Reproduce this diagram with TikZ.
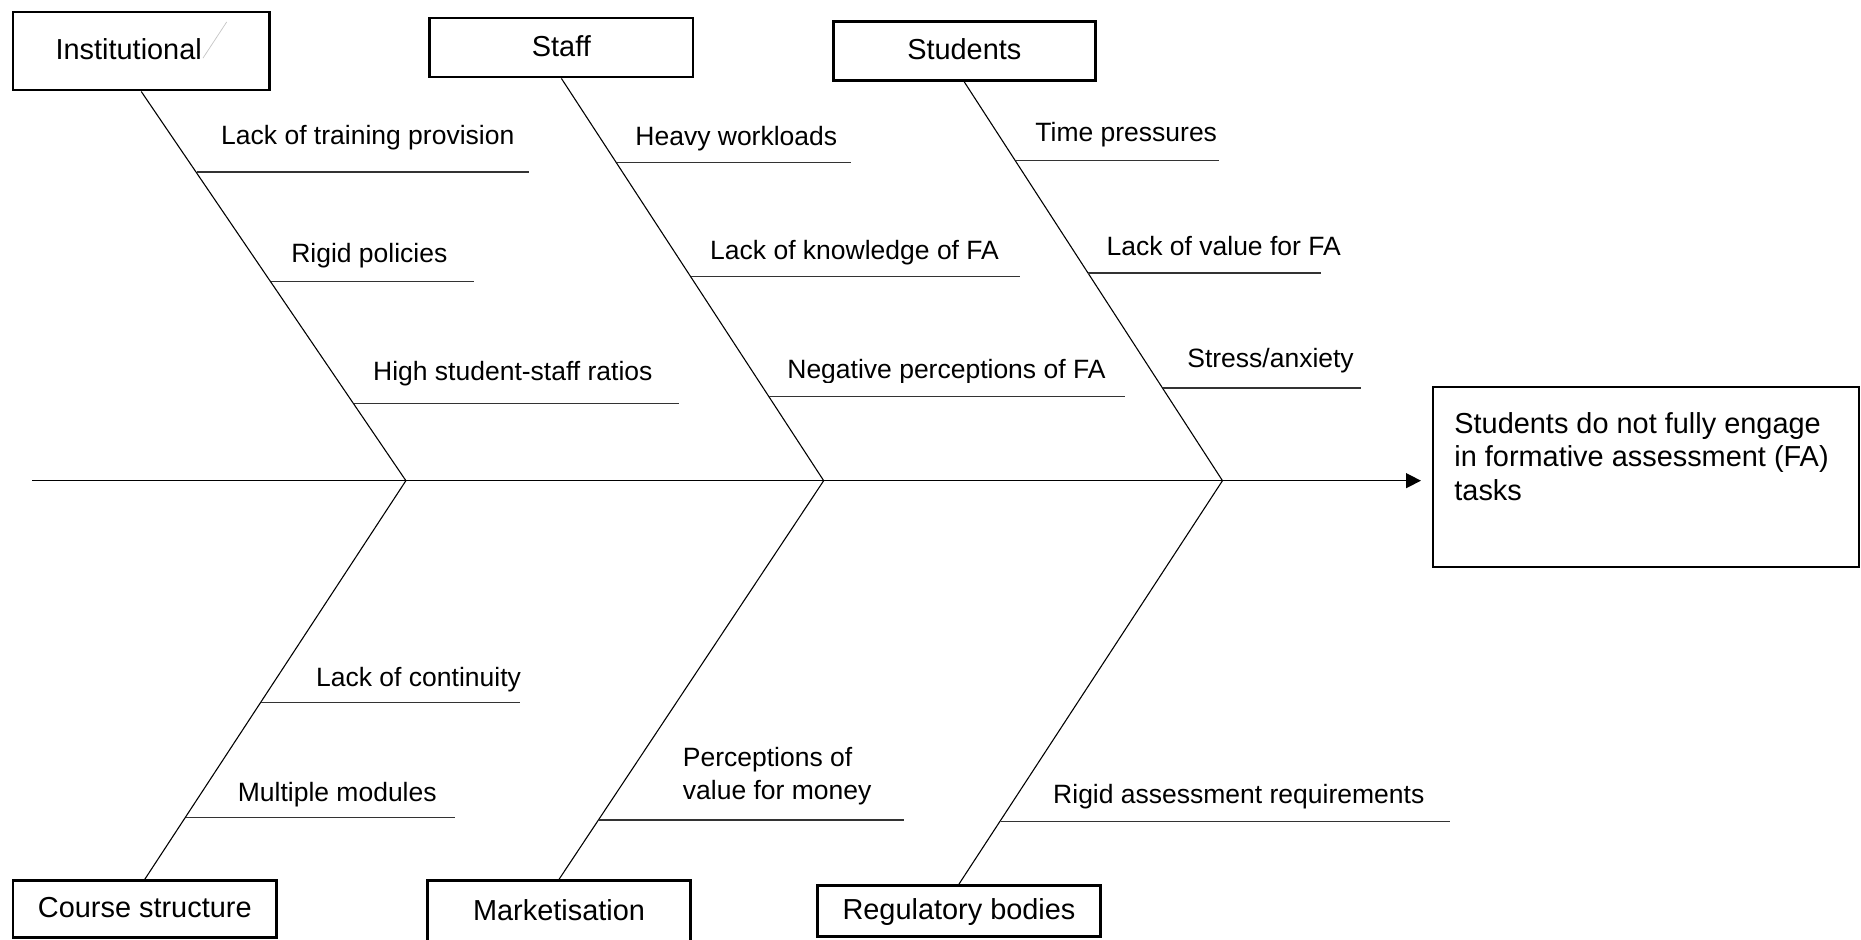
\documentclass[tikz,border=0pt]{standalone}
\usepackage{fontspec}
\setmainfont{Liberation Sans}
\usetikzlibrary{arrows.meta}

% Styles for the fishbone:
\tikzset{
    cat/.style={draw, line width=1.1pt, inner sep=0pt, text height=.72em, text depth=0pt,
        font=\fontsize{12}{14}\selectfont},
    cause/.style={anchor=base west, inner sep=0pt, font=\fontsize{11}{13.8}\selectfont},
    bone/.style={line width=.45pt},
    twig/.style={line width=.6pt, black!80},
}

\begin{document}
\begin{tikzpicture}[x=0.017321cm, y=-0.017321cm]
    % Page size (one unit is one pixel of the layout, y grows downwards):
    \useasboundingbox (0,0) rectangle (1568,792);

    % Category boxes:
    % Top row above the main line, bottom row below it
    \node[cat, minimum width=106.4pt, minimum height=32.5pt] (inst)   at (119,43)    {Institutional\hspace*{10.4pt}};
    \node[cat, minimum width=109.4pt, minimum height=24.6pt] (staff)  at (473,40)    {Staff};
    \node[cat, minimum width=108.9pt, minimum height=24.6pt] (stud)   at (812.5,43)  {Students};
    \node[cat, minimum width=109.4pt, minimum height=23.7pt] (course) at (122,766)   {Course structure};
    \node[cat, minimum width=109.4pt, minimum height=25.6pt] (market) at (471,768)   {Marketisation};
    \node[cat, minimum width=117.3pt, minimum height=21.2pt] (reg)    at (808,767.5) {Regulatory bodies};
    % stray stroke left in the first box
    \draw[gray!45, line width=.3pt] (171,49) -- (191,18.5);

    % Effect box at the head of the fish:
    \node[draw, line width=.8pt, minimum width=176.9pt, minimum height=74.9pt] (res) at (1386.5,402) {};
    \node[anchor=north west, inner sep=0pt, align=left, font=\fontsize{12}{14}\selectfont] (restext) at (1225,347)
        {Students do not fully engage\\in formative assessment (FA)\\tasks};

    % Main line with arrow, and where the bones meet it:
    \coordinate (tail) at (27,405);
    \coordinate (j1) at (342,405);
    \coordinate (j2) at (694,405);
    \coordinate (j3) at (1030,405);
    \draw[line width=.6pt, -{Triangle[length=6.2pt,width=6.2pt]}, shorten >=4.4pt] (tail) -- (tail -| res.west);

    % Bones from the boxes down (or up) to the main line:
    \draw[bone] (inst.south) -- (j1);
    \draw[bone] (staff.south) -- (j2);
    \draw[bone] (stud.south) -- (j3);
    \draw[bone] (course.north) -- (j1);
    \draw[bone] (market.north) -- (j2);
    \draw[bone] (reg.north) -- (j3);

    % Causes: a short line off each bone with its text on top
    % Institutional
    \draw[twig] (166,145) -- (446,145);
    \node[cause] (c1) at (186,122) {Lack of training provision};
    \draw[twig] (228,237) -- (399,237);
    \node[cause] (c2) at (245,221) {Rigid policies};
    \draw[twig] (298,340) -- (572,340);
    \node[cause] (c3) at (314,321) {High student-staff ratios};
    % Staff
    \draw[twig] (520,137) -- (717,137);
    \node[cause] (c4) at (535,123) {Heavy workloads};
    \draw[twig] (582,233) -- (859,233);
    \node[cause] (c5) at (598,219) {Lack of knowledge of FA};
    \draw[twig] (648,334) -- (948,334);
    \begin{scope}
        \clip (650,290) rectangle (950,322);
        \node[cause] (c6) at (663,319) {Negative perceptions of FA};
    \end{scope}
    % Students
    \draw[twig] (856,135) -- (1027,135);
    \node[cause] (c7) at (872,119) {Time pressures};
    \draw[twig] (917,230) -- (1113,230);
    \node[cause] (c8) at (932,215) {Lack of value for FA};
    \draw[twig] (980,327) -- (1147,327);
    \node[cause] (c9) at (1000,310) {Stress/anxiety};
    % Course structure
    \draw[twig] (220,592) -- (438,592);
    \node[cause] (c10) at (266,578) {Lack of continuity};
    \draw[twig] (157,689) -- (383,689);
    \node[cause] (c11) at (200,675) {Multiple modules};
    % Marketisation
    \draw[twig] (505,691) -- (762,691);
    \node[cause, anchor=north west, align=left] (c12) at (575,629) {Perceptions of\\value for money};
    % Regulatory bodies
    \draw[twig] (843,692) -- (1222,692);
    \node[cause] (c13) at (887,677) {Rigid assessment requirements};
\end{tikzpicture}
\end{document}
